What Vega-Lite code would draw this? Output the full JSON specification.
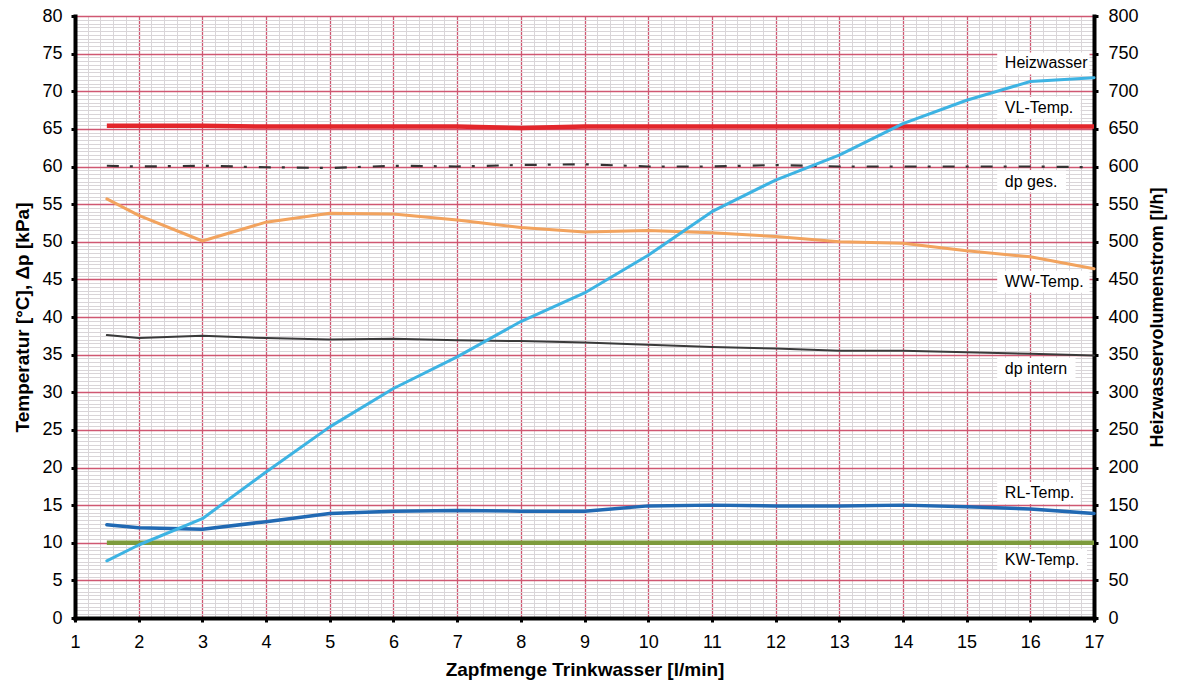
{
  "$schema": "https://vega.github.io/schema/vega-lite/v6.json",
  "width": 1019,
  "height": 602,
  "autosize": "none",
  "padding": {"left": 75, "top": 16, "right": 83, "bottom": 69},
  "background": "white",
  "config": {"font": "Liberation Sans", "view": {"stroke": null}},
  "datasets": {
    "temp": [
      {"x": 1.5, "series": "VL-Temp.", "v": 65.4}, {"x": 2, "series": "VL-Temp.", "v": 65.4}, {"x": 3, "series": "VL-Temp.", "v": 65.4}, {"x": 4, "series": "VL-Temp.", "v": 65.3}, {"x": 5, "series": "VL-Temp.", "v": 65.3}, {"x": 6, "series": "VL-Temp.", "v": 65.3}, {"x": 7, "series": "VL-Temp.", "v": 65.3}, {"x": 8, "series": "VL-Temp.", "v": 65.1}, {"x": 9, "series": "VL-Temp.", "v": 65.3}, {"x": 10, "series": "VL-Temp.", "v": 65.3}, {"x": 11, "series": "VL-Temp.", "v": 65.3}, {"x": 12, "series": "VL-Temp.", "v": 65.3}, {"x": 13, "series": "VL-Temp.", "v": 65.3}, {"x": 14, "series": "VL-Temp.", "v": 65.3}, {"x": 15, "series": "VL-Temp.", "v": 65.3}, {"x": 16, "series": "VL-Temp.", "v": 65.3}, {"x": 17, "series": "VL-Temp.", "v": 65.3},
      {"x": 1.5, "series": "dp ges.", "v": 60.1}, {"x": 2, "series": "dp ges.", "v": 60.0}, {"x": 3, "series": "dp ges.", "v": 60.1}, {"x": 4, "series": "dp ges.", "v": 59.9}, {"x": 5, "series": "dp ges.", "v": 59.8}, {"x": 6, "series": "dp ges.", "v": 60.1}, {"x": 7, "series": "dp ges.", "v": 60.0}, {"x": 8, "series": "dp ges.", "v": 60.2}, {"x": 9, "series": "dp ges.", "v": 60.3}, {"x": 10, "series": "dp ges.", "v": 60.0}, {"x": 11, "series": "dp ges.", "v": 60.0}, {"x": 12, "series": "dp ges.", "v": 60.2}, {"x": 13, "series": "dp ges.", "v": 60.0}, {"x": 14, "series": "dp ges.", "v": 60.0}, {"x": 15, "series": "dp ges.", "v": 60.0}, {"x": 16, "series": "dp ges.", "v": 60.0}, {"x": 17, "series": "dp ges.", "v": 59.9},
      {"x": 1.5, "series": "WW-Temp.", "v": 55.7}, {"x": 2, "series": "WW-Temp.", "v": 53.5}, {"x": 3, "series": "WW-Temp.", "v": 50.1}, {"x": 4, "series": "WW-Temp.", "v": 52.6}, {"x": 5, "series": "WW-Temp.", "v": 53.8}, {"x": 6, "series": "WW-Temp.", "v": 53.7}, {"x": 7, "series": "WW-Temp.", "v": 52.9}, {"x": 8, "series": "WW-Temp.", "v": 51.9}, {"x": 9, "series": "WW-Temp.", "v": 51.3}, {"x": 10, "series": "WW-Temp.", "v": 51.5}, {"x": 11, "series": "WW-Temp.", "v": 51.2}, {"x": 12, "series": "WW-Temp.", "v": 50.7}, {"x": 13, "series": "WW-Temp.", "v": 50.0}, {"x": 14, "series": "WW-Temp.", "v": 49.8}, {"x": 15, "series": "WW-Temp.", "v": 48.8}, {"x": 16, "series": "WW-Temp.", "v": 48.0}, {"x": 17, "series": "WW-Temp.", "v": 46.4},
      {"x": 1.5, "series": "dp intern", "v": 37.6}, {"x": 2, "series": "dp intern", "v": 37.2}, {"x": 3, "series": "dp intern", "v": 37.5}, {"x": 4, "series": "dp intern", "v": 37.2}, {"x": 5, "series": "dp intern", "v": 37.0}, {"x": 6, "series": "dp intern", "v": 37.1}, {"x": 7, "series": "dp intern", "v": 36.9}, {"x": 8, "series": "dp intern", "v": 36.8}, {"x": 9, "series": "dp intern", "v": 36.6}, {"x": 10, "series": "dp intern", "v": 36.3}, {"x": 11, "series": "dp intern", "v": 36.0}, {"x": 12, "series": "dp intern", "v": 35.8}, {"x": 13, "series": "dp intern", "v": 35.5}, {"x": 14, "series": "dp intern", "v": 35.5}, {"x": 15, "series": "dp intern", "v": 35.3}, {"x": 16, "series": "dp intern", "v": 35.1}, {"x": 17, "series": "dp intern", "v": 34.9},
      {"x": 1.5, "series": "RL-Temp.", "v": 12.4}, {"x": 2, "series": "RL-Temp.", "v": 12.0}, {"x": 3, "series": "RL-Temp.", "v": 11.8}, {"x": 4, "series": "RL-Temp.", "v": 12.8}, {"x": 5, "series": "RL-Temp.", "v": 13.9}, {"x": 6, "series": "RL-Temp.", "v": 14.2}, {"x": 7, "series": "RL-Temp.", "v": 14.3}, {"x": 8, "series": "RL-Temp.", "v": 14.2}, {"x": 9, "series": "RL-Temp.", "v": 14.2}, {"x": 10, "series": "RL-Temp.", "v": 14.9}, {"x": 11, "series": "RL-Temp.", "v": 15.0}, {"x": 12, "series": "RL-Temp.", "v": 14.9}, {"x": 13, "series": "RL-Temp.", "v": 14.9}, {"x": 14, "series": "RL-Temp.", "v": 15.0}, {"x": 15, "series": "RL-Temp.", "v": 14.8}, {"x": 16, "series": "RL-Temp.", "v": 14.5}, {"x": 17, "series": "RL-Temp.", "v": 13.9},
      {"x": 1.5, "series": "KW-Temp.", "v": 10.0}, {"x": 2, "series": "KW-Temp.", "v": 10.0}, {"x": 3, "series": "KW-Temp.", "v": 10.0}, {"x": 4, "series": "KW-Temp.", "v": 10.0}, {"x": 5, "series": "KW-Temp.", "v": 10.0}, {"x": 6, "series": "KW-Temp.", "v": 10.0}, {"x": 7, "series": "KW-Temp.", "v": 10.0}, {"x": 8, "series": "KW-Temp.", "v": 10.0}, {"x": 9, "series": "KW-Temp.", "v": 10.0}, {"x": 10, "series": "KW-Temp.", "v": 10.0}, {"x": 11, "series": "KW-Temp.", "v": 10.0}, {"x": 12, "series": "KW-Temp.", "v": 10.0}, {"x": 13, "series": "KW-Temp.", "v": 10.0}, {"x": 14, "series": "KW-Temp.", "v": 10.0}, {"x": 15, "series": "KW-Temp.", "v": 10.0}, {"x": 16, "series": "KW-Temp.", "v": 10.0}, {"x": 17, "series": "KW-Temp.", "v": 10.0}
    ],
    "flow": [
      {"x": 1.5, "q": 76}, {"x": 2, "q": 97}, {"x": 3, "q": 132}, {"x": 4, "q": 194}, {"x": 5, "q": 254}, {"x": 6, "q": 305}, {"x": 7, "q": 347}, {"x": 8, "q": 394}, {"x": 9, "q": 432}, {"x": 10, "q": 482}, {"x": 11, "q": 540}, {"x": 12, "q": 582}, {"x": 13, "q": 615}, {"x": 14, "q": 657}, {"x": 15, "q": 688}, {"x": 16, "q": 713}, {"x": 17, "q": 718}
    ],
    "labels": [
      {"label": "Heizwasser", "x": 15.6, "y": 73.7, "xb": 15.48, "xe": 16.93},
      {"label": "VL-Temp.", "x": 15.6, "y": 67.8, "xb": 15.48, "xe": 16.79},
      {"label": "dp ges.", "x": 15.6, "y": 58.0, "xb": 15.48, "xe": 16.56},
      {"label": "WW-Temp.", "x": 15.6, "y": 44.7, "xb": 15.48, "xe": 16.93},
      {"label": "dp intern", "x": 15.6, "y": 33.1, "xb": 15.48, "xe": 16.71},
      {"label": "RL-Temp.", "x": 15.6, "y": 16.6, "xb": 15.48, "xe": 16.79},
      {"label": "KW-Temp.", "x": 15.6, "y": 7.7, "xb": 15.48, "xe": 16.89}
    ]
  },
  "layer": [
    {
      "layer": [
        {
          "data": {"name": "temp"},
          "transform": [{"filter": "datum.series === 'KW-Temp.'"}],
          "mark": {"type": "line", "color": "#7d9b3c", "strokeWidth": 4.5},
          "encoding": {
            "x": {
              "field": "x", "type": "quantitative",
              "scale": {"domain": [1, 17], "nice": false, "zero": false},
              "axis": {
                "title": "Zapfmenge Trinkwasser [l/min]",
                "titleFont": "Liberation Sans", "titleFontSize": 19, "titleFontWeight": "bold", "titleColor": "#000", "titlePadding": 9,
                "values": [1,1.2,1.4,1.6,1.8,2,2.2,2.4,2.6,2.8,3,3.2,3.4,3.6,3.8,4,4.2,4.4,4.6,4.8,5,5.2,5.4,5.6,5.8,6,6.2,6.4,6.6,6.8,7,7.2,7.4,7.6,7.8,8,8.2,8.4,8.6,8.8,9,9.2,9.4,9.6,9.8,10,10.2,10.4,10.6,10.8,11,11.2,11.4,11.6,11.8,12,12.2,12.4,12.6,12.8,13,13.2,13.4,13.6,13.8,14,14.2,14.4,14.6,14.8,15,15.2,15.4,15.6,15.8,16,16.2,16.4,16.6,16.8,17],
                "labelExpr": "abs(datum.value - round(datum.value)) < 0.01 ? format(datum.value, 'd') : ''",
                "labelOverlap": false, "labelBound": false, "labelFlush": false,
                "labelFontSize": 18, "labelColor": "#000", "labelPadding": 11,
                "domainColor": "#000", "domainWidth": 4, "domainCap": "square",
                "tickColor": "#000", "tickWidth": 3, "tickSize": 4,
                "tickOpacity": {"condition": {"test": "abs(datum.value - round(datum.value)) < 0.01", "value": 1}, "value": 0},
                "grid": true,
                "gridColor": {"condition": {"test": "abs(datum.value - round(datum.value)) < 0.01", "value": "#cf5772"}, "value": "#d9d5d8"},
                "gridWidth": {"condition": {"test": "abs(datum.value - round(datum.value)) < 0.01", "value": 1.3}, "value": 1},
                "gridOpacity": 1
              }
            },
            "y": {
              "field": "v", "type": "quantitative",
              "scale": {"domain": [0, 80], "nice": false},
              "axis": {
                "title": "Temperatur [°C], Δp [kPa]",
                "titleFont": "Liberation Sans", "titleFontSize": 19, "titleFontWeight": "bold", "titleColor": "#000", "titlePadding": 9,
                "values": [0,0.5,1,1.5,2,2.5,3,3.5,4,4.5,5,5.5,6,6.5,7,7.5,8,8.5,9,9.5,10,10.5,11,11.5,12,12.5,13,13.5,14,14.5,15,15.5,16,16.5,17,17.5,18,18.5,19,19.5,20,20.5,21,21.5,22,22.5,23,23.5,24,24.5,25,25.5,26,26.5,27,27.5,28,28.5,29,29.5,30,30.5,31,31.5,32,32.5,33,33.5,34,34.5,35,35.5,36,36.5,37,37.5,38,38.5,39,39.5,40,40.5,41,41.5,42,42.5,43,43.5,44,44.5,45,45.5,46,46.5,47,47.5,48,48.5,49,49.5,50,50.5,51,51.5,52,52.5,53,53.5,54,54.5,55,55.5,56,56.5,57,57.5,58,58.5,59,59.5,60,60.5,61,61.5,62,62.5,63,63.5,64,64.5,65,65.5,66,66.5,67,67.5,68,68.5,69,69.5,70,70.5,71,71.5,72,72.5,73,73.5,74,74.5,75,75.5,76,76.5,77,77.5,78,78.5,79,79.5,80],
                "labelExpr": "abs(datum.value - round(datum.value / 5) * 5) < 0.01 ? format(datum.value, 'd') : ''",
                "labelOverlap": false, "labelBound": false, "labelFlush": false,
                "labelFontSize": 18, "labelColor": "#000", "labelPadding": 9,
                "domainColor": "#000", "domainWidth": 4, "domainCap": "square",
                "tickColor": "#000", "tickWidth": 3, "tickSize": 4,
                "tickOpacity": {"condition": {"test": "abs(datum.value - round(datum.value / 5) * 5) < 0.01", "value": 1}, "value": 0},
                "grid": true,
                "gridColor": {"condition": {"test": "abs(datum.value - round(datum.value / 5) * 5) < 0.01", "value": "#cf5772"}, "value": "#d9d5d8"},
                "gridWidth": {"condition": {"test": "abs(datum.value - round(datum.value / 5) * 5) < 0.01", "value": 1.3}, "value": 1},
                "gridOpacity": 1
              }
            }
          }
        },
        {
          "data": {"name": "temp"},
          "transform": [{"filter": "datum.series === 'RL-Temp.'"}],
          "mark": {"type": "line", "color": "#2169b3", "strokeWidth": 3.5, "strokeCap": "round", "strokeJoin": "round"},
          "encoding": {"x": {"field": "x", "type": "quantitative", "axis": null}, "y": {"field": "v", "type": "quantitative", "axis": null}}
        },
        {
          "data": {"name": "temp"},
          "transform": [{"filter": "datum.series === 'dp intern'"}],
          "mark": {"type": "line", "color": "#3a3a3a", "strokeWidth": 2, "strokeCap": "round", "strokeJoin": "round"},
          "encoding": {"x": {"field": "x", "type": "quantitative", "axis": null}, "y": {"field": "v", "type": "quantitative", "axis": null}}
        },
        {
          "data": {"name": "temp"},
          "transform": [{"filter": "datum.series === 'WW-Temp.'"}],
          "mark": {"type": "line", "color": "#f2a35e", "strokeWidth": 3, "strokeCap": "round", "strokeJoin": "round"},
          "encoding": {"x": {"field": "x", "type": "quantitative", "axis": null}, "y": {"field": "v", "type": "quantitative", "axis": null}}
        },
        {
          "data": {"name": "temp"},
          "transform": [{"filter": "datum.series === 'dp ges.'"}],
          "mark": {"type": "line", "color": "#333333", "strokeWidth": 2.2, "strokeDash": [12, 11, 3, 12]},
          "encoding": {"x": {"field": "x", "type": "quantitative", "axis": null}, "y": {"field": "v", "type": "quantitative", "axis": null}}
        },
        {
          "data": {"name": "temp"},
          "transform": [{"filter": "datum.series === 'VL-Temp.'"}],
          "mark": {"type": "line", "color": "#e3262b", "strokeWidth": 4.5},
          "encoding": {"x": {"field": "x", "type": "quantitative", "axis": null}, "y": {"field": "v", "type": "quantitative", "axis": null}}
        },
        {
          "data": {"name": "labels"},
          "mark": {"type": "rect", "fill": "white", "yOffset": -11, "y2Offset": 11},
          "encoding": {
            "x": {"field": "xb", "type": "quantitative", "axis": null},
            "x2": {"field": "xe"},
            "y": {"field": "y", "type": "quantitative", "axis": null},
            "y2": {"field": "y"}
          }
        },
        {
          "data": {"name": "labels"},
          "mark": {"type": "text", "align": "left", "baseline": "middle", "fontSize": 16, "font": "Liberation Sans", "color": "#000"},
          "encoding": {
            "x": {"field": "x", "type": "quantitative", "axis": null},
            "y": {"field": "y", "type": "quantitative", "axis": null},
            "text": {"field": "label"}
          }
        }
      ],
      "resolve": {"axis": {"x": "independent", "y": "independent"}}
    },
    {
      "data": {"name": "flow"},
      "mark": {"type": "line", "color": "#3db3e3", "strokeWidth": 3, "strokeCap": "round", "strokeJoin": "round"},
      "encoding": {
        "x": {"field": "x", "type": "quantitative", "axis": null},
        "y": {
          "field": "q", "type": "quantitative",
          "scale": {"domain": [0, 800], "nice": false},
          "axis": {
            "orient": "right",
            "title": "Heizwasservolumenstrom [l/h]",
            "titleFont": "Liberation Sans", "titleFontSize": 18, "titleFontWeight": "bold", "titleColor": "#000", "titlePadding": 10, "titleAngle": -90, "titleBaseline": "top",
            "values": [0,50,100,150,200,250,300,350,400,450,500,550,600,650,700,750,800],
            "labelOverlap": false, "labelBound": false, "labelFlush": false,
            "labelFontSize": 18, "labelColor": "#000", "labelPadding": 10,
            "domainColor": "#000", "domainWidth": 4, "domainCap": "square",
            "tickColor": "#000", "tickWidth": 3, "tickSize": 4,
            "grid": false
          }
        }
      }
    }
  ],
  "resolve": {"scale": {"y": "independent"}, "axis": {"x": "independent", "y": "independent"}}
}
